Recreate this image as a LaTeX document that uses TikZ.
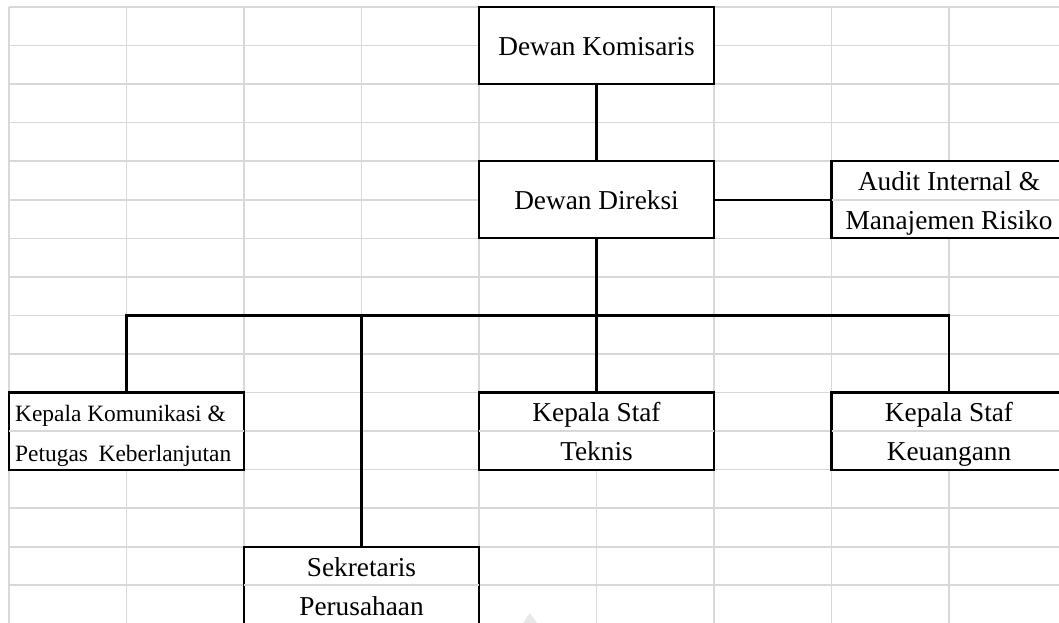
\documentclass[tikz,border=0pt]{standalone}
\usepackage{fontspec}
\setmainfont{Liberation Serif}
\definecolor{gridgray}{RGB}{216,216,216}
\definecolor{wmgray}{RGB}{232,232,232}
\begin{document}
\begin{tikzpicture}[x=1pt,y=-1pt,
  gridline/.style={draw=gridgray,line width=1.6pt},
  box/.style={rectangle,draw=black,line width=2.2pt,fill=white,inner sep=0pt,minimum width=235pt,minimum height=77.1pt},
  conn/.style={draw=black,line width=2.2pt,line join=miter},
  big/.style={font=\fontsize{27.3}{32}\selectfont,inner sep=0pt,anchor=base},
  small/.style={font=\fontsize{23.4}{28}\selectfont,inner sep=0pt,anchor=base west}]
\clip (0,0) rectangle (1059,622);
\fill[white] (0,0) rectangle (1059,622);
% spreadsheet grid
\foreach \i in {0,...,9} \draw[gridline] ({9+117.5*\i},7) -- ({9+117.5*\i},640);
\foreach \j in {0,...,16} \draw[gridline] (9,{7+38.55*\j}) -- (1080,{7+38.55*\j});
% boxes
\node[box] (kom) at (596.5,45.55) {};
\node[box] (dir) at (596.5,199.75) {};
\node[box] (aud) at (949,199.75) {};
\node[box] (komu) at (126.5,431.05) {};
\node[box] (tek) at (596.5,431.05) {};
\node[box] (keu) at (949,431.05) {};
\node[box] (sek) at (361.5,585.25) {};
% inner row lines of two-row boxes
\foreach \b in {aud,komu,tek,keu,sek}
  \draw[gridline] ([xshift=1.2pt]\b.west) -- ([xshift=-1.2pt]\b.east);
% connectors
\coordinate (busL) at (126.5,315.4);
\coordinate (busM) at (596.5,315.4);
\coordinate (busS) at (361.5,315.4);
\coordinate (busR) at (949,315.4);
\draw[conn] (kom.south) -- (dir.north);
\draw[conn] (dir.east) -- (aud.west);
\draw[conn] (dir.south) -- (busM);
\draw[conn] (komu.north) -- (busL) -- (busR) -- (keu.north);
\draw[conn] (busS) -- (sek.north);
\draw[conn] (busM) -- (tek.north);
% texts
\node[big] (tkom) at (596.5,55) {Dewan Komisaris};
\node[big] (tdir) at (596.5,209.5) {Dewan Direksi};
\node[big] (taud1) at (949,190.5) {Audit Internal \&};
\node[big] (taud2) at (949,229.8) {Manajemen Risiko};
\node[small] (tkomu1) at (15,421.5) {Kepala Komunikasi \&};
\node[small] (tkomu2) at (15,461) {\makebox[216pt][s]{Petugas Keberlanjutan}};
\node[big] (ttek1) at (596.5,421.5) {Kepala Staf};
\node[big] (ttek2) at (596.5,460.5) {Teknis};
\node[big] (tkeu1) at (949,421.5) {Kepala Staf};
\node[big] (tkeu2) at (949,460.5) {Keuangann};
\node[big] (tsek1) at (361.5,576.5) {Sekretaris};
\node[big] (tsek2) at (361.5,615) {Perusahaan};
% faint watermark fragment
\fill[wmgray] (523,623) -- (530,613) -- (537,623) -- cycle;
\end{tikzpicture}
\end{document}
